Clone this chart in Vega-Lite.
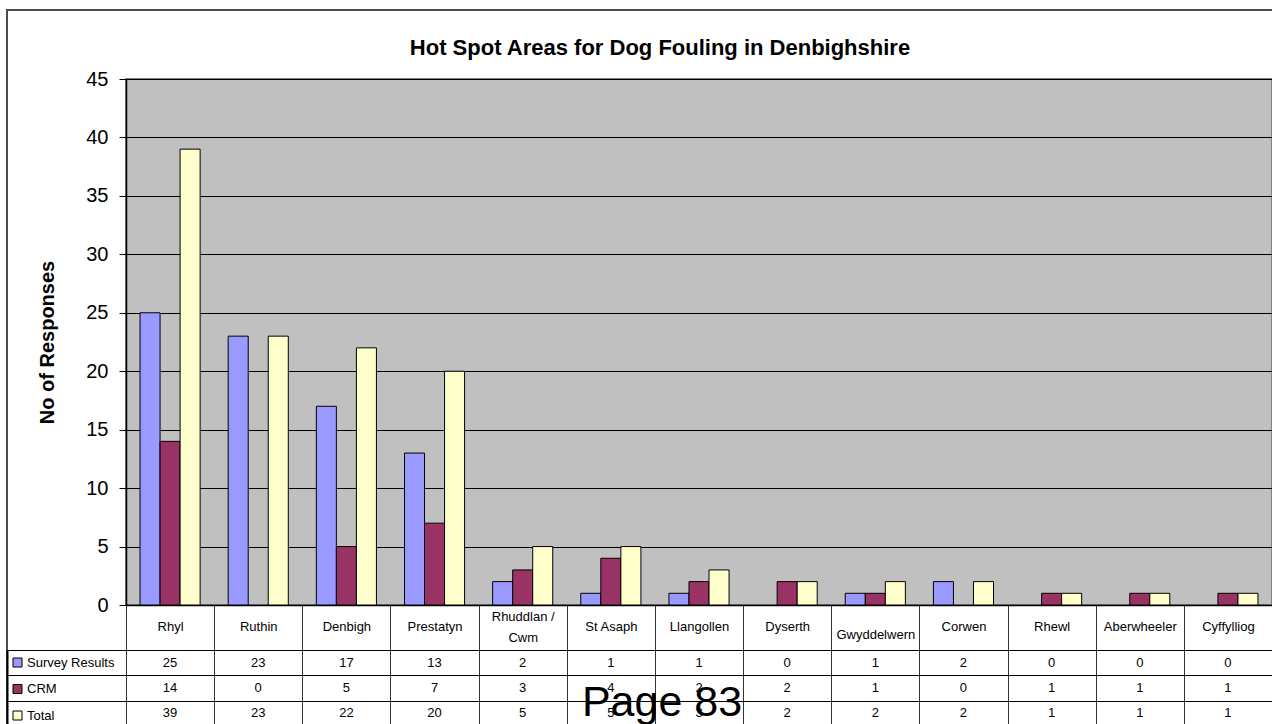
{
  "$schema": "https://vega.github.io/schema/vega-lite/v6.json",
  "background": "white",
  "padding": {"left": 6, "top": 10, "right": 0, "bottom": 0},
  "config": {
    "font": "Liberation Sans",
    "view": {"stroke": null},
    "axis": {"labelColor": "black", "titleColor": "black", "domainColor": "black", "tickColor": "black", "gridColor": "black", "labelFont": "Liberation Sans", "titleFont": "Liberation Sans"},
    "legend": {"labelFont": "Liberation Sans"}
  },
  "data": {"values": [
    {"area": "Rhyl", "series": "Survey Results", "value": 25},
    {"area": "Rhyl", "series": "CRM", "value": 14},
    {"area": "Rhyl", "series": "Total", "value": 39},
    {"area": "Ruthin", "series": "Survey Results", "value": 23},
    {"area": "Ruthin", "series": "CRM", "value": 0},
    {"area": "Ruthin", "series": "Total", "value": 23},
    {"area": "Denbigh", "series": "Survey Results", "value": 17},
    {"area": "Denbigh", "series": "CRM", "value": 5},
    {"area": "Denbigh", "series": "Total", "value": 22},
    {"area": "Prestatyn", "series": "Survey Results", "value": 13},
    {"area": "Prestatyn", "series": "CRM", "value": 7},
    {"area": "Prestatyn", "series": "Total", "value": 20},
    {"area": "Rhuddlan / Cwm", "series": "Survey Results", "value": 2},
    {"area": "Rhuddlan / Cwm", "series": "CRM", "value": 3},
    {"area": "Rhuddlan / Cwm", "series": "Total", "value": 5},
    {"area": "St Asaph", "series": "Survey Results", "value": 1},
    {"area": "St Asaph", "series": "CRM", "value": 4},
    {"area": "St Asaph", "series": "Total", "value": 5},
    {"area": "Llangollen", "series": "Survey Results", "value": 1},
    {"area": "Llangollen", "series": "CRM", "value": 2},
    {"area": "Llangollen", "series": "Total", "value": 3},
    {"area": "Dyserth", "series": "Survey Results", "value": 0},
    {"area": "Dyserth", "series": "CRM", "value": 2},
    {"area": "Dyserth", "series": "Total", "value": 2},
    {"area": "Gwyddelwern", "series": "Survey Results", "value": 1},
    {"area": "Gwyddelwern", "series": "CRM", "value": 1},
    {"area": "Gwyddelwern", "series": "Total", "value": 2},
    {"area": "Corwen", "series": "Survey Results", "value": 2},
    {"area": "Corwen", "series": "CRM", "value": 0},
    {"area": "Corwen", "series": "Total", "value": 2},
    {"area": "Rhewl", "series": "Survey Results", "value": 0},
    {"area": "Rhewl", "series": "CRM", "value": 1},
    {"area": "Rhewl", "series": "Total", "value": 1},
    {"area": "Aberwheeler", "series": "Survey Results", "value": 0},
    {"area": "Aberwheeler", "series": "CRM", "value": 1},
    {"area": "Aberwheeler", "series": "Total", "value": 1},
    {"area": "Cyffylliog", "series": "Survey Results", "value": 0},
    {"area": "Cyffylliog", "series": "CRM", "value": 1},
    {"area": "Cyffylliog", "series": "Total", "value": 1}
  ]},
  "bounds": "flush",
  "spacing": 45,
  "vconcat": [
    {
      "width": 1146,
      "height": 526,
      "title": {"text": "Hot Spot Areas for Dog Fouling in Denbighshire", "fontSize": 22, "fontWeight": "bold", "anchor": "middle", "dx": -39, "offset": 9, "color": "black", "font": "Liberation Sans"},
      "view": {"fill": "#C0C0C0", "stroke": "#808080", "strokeWidth": 2},
      "layer": [
        {
          "transform": [{"filter": "datum.value > 0"}],
          "mark": {"type": "bar", "stroke": "black", "strokeWidth": 1},
          "encoding": {
            "x": {
              "field": "area", "type": "nominal", "sort": null,
              "scale": {"domain": ["Rhyl", "Ruthin", "Denbigh", "Prestatyn", "Rhuddlan / Cwm", "St Asaph", "Llangollen", "Dyserth", "Gwyddelwern", "Corwen", "Rhewl", "Aberwheeler", "Cyffylliog"], "paddingInner": 0, "paddingOuter": 0},
              "axis": {"orient": "bottom", "title": null, "tickBand": "extent", "tickSize": 45, "tickColor": "#333333", "labelFontSize": 13, "labelBaseline": "middle", "labelPadding": {"condition": [{"test": "datum.value == 'Rhuddlan / Cwm'", "value": -34}, {"test": "datum.value == 'Gwyddelwern'", "value": -16}], "value": -24}, "labelAngle": 0, "labelLimit": 200, "labelLineHeight": 21, "labelOverlap": false, "labelExpr": "datum.value == 'Rhuddlan / Cwm' ? ['Rhuddlan /', 'Cwm'] : datum.label", "domainColor": "black", "domainWidth": 1.5}
            },
            "xOffset": {"field": "series", "type": "nominal", "scale": {"domain": ["Survey Results", "CRM", "Total"], "paddingInner": 0, "paddingOuter": 0.7}},
            "y": {
              "field": "value", "type": "quantitative",
              "scale": {"domain": [0, 45], "nice": false},
              "axis": {"values": [0, 5, 10, 15, 20, 25, 30, 35, 40, 45], "grid": true, "gridColor": "black", "tickSize": 7, "labelFontSize": 20, "labelPadding": 11, "title": "No of Responses", "titleFontSize": 20, "titleFontWeight": "bold", "titlePadding": 28, "domainColor": "black", "domainWidth": 1.5}
            },
            "color": {
              "field": "series", "type": "nominal",
              "scale": {"domain": ["Survey Results", "CRM", "Total"], "range": ["#9999FF", "#993366", "#FFFFCC"]},
              "legend": {"orient": "none", "legendX": -115, "legendY": 577, "title": null, "labelFontSize": 13, "labelColor": "black", "symbolType": "square", "symbolSize": 81, "symbolStrokeColor": "black", "symbolStrokeWidth": 1, "rowPadding": 12.5, "labelOffset": 3, "padding": 0}
            }
          }
        },
        {
          "mark": {"type": "point", "size": 0, "filled": true, "strokeWidth": 0},
          "encoding": {
            "x": {"field": "area", "type": "nominal"},
            "y": {"field": "value", "type": "quantitative"},
            "fill": {
              "field": "value", "type": "quantitative",
              "scale": {"range": ["rgba(255,255,255,0)", "rgba(255,255,255,0)"]},
              "legend": {"orient": "none", "legendX": -119, "legendY": -69, "direction": "vertical", "title": null, "gradientLength": 720, "gradientThickness": 1300, "gradientStrokeColor": "black", "gradientStrokeWidth": 2, "labelExpr": "''", "labelOpacity": 0, "padding": 0}
            }
          }
        }
      ]
    },
    {
      "width": 1146,
      "height": 76,
      "view": {"stroke": "black", "strokeWidth": 1},
      "layer": [
        {
          "mark": {"type": "text", "fontSize": 13, "color": "black"},
          "encoding": {
            "x": {
              "field": "area", "type": "nominal", "sort": null,
              "scale": {"domain": ["Rhyl", "Ruthin", "Denbigh", "Prestatyn", "Rhuddlan / Cwm", "St Asaph", "Llangollen", "Dyserth", "Gwyddelwern", "Corwen", "Rhewl", "Aberwheeler", "Cyffylliog"], "paddingInner": 0, "paddingOuter": 0},
              "axis": {"orient": "top", "title": null, "labels": false, "ticks": false, "domain": false, "grid": true, "tickBand": "extent", "gridColor": "#333333"}
            },
            "y": {
              "field": "series", "type": "nominal", "sort": null,
              "scale": {"domain": ["Survey Results", "CRM", "Total"], "paddingInner": 0, "paddingOuter": 0},
              "axis": {"orient": "left", "title": null, "labels": false, "tickBand": "extent", "grid": true, "gridColor": "black", "tickSize": -119, "offset": 119, "domain": true, "domainColor": "black", "domainWidth": 2}
            },
            "text": {"field": "value", "type": "quantitative"}
          }
        },
        {
          "data": {"values": [{}]},
          "mark": {"type": "text", "text": "Page 83", "fontSize": 43, "baseline": "alphabetic", "dy": 3, "dx": -37, "color": "black", "font": "Liberation Sans"},
          "encoding": {
            "x": {"datum": "Llangollen"},
            "y": {"datum": "Total"}
          }
        }
      ]
    }
  ],
  "resolve": {"scale": {"x": "independent", "y": "independent"}}
}
